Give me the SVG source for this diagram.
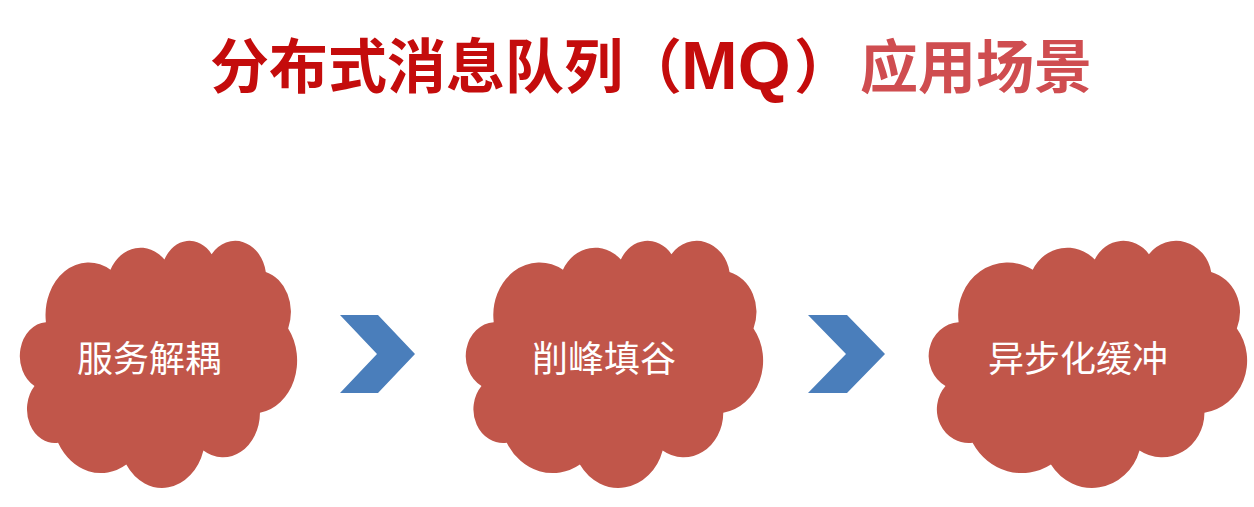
<svg xmlns="http://www.w3.org/2000/svg" xmlns:xlink="http://www.w3.org/1999/xlink" width="1254" height="507" viewBox="0 0 1254 507">
  <style>
    .cloud { fill: #C1564A; }
    .chev { fill: #4A7EBB; }
    .label { font-family: "Noto Sans CJK SC", "Noto Sans", sans-serif; font-size: 36px; fill: #FFFFFF; text-anchor: middle; }
    .title { font-family: "Noto Sans CJK SC", "Liberation Sans", sans-serif; font-weight: bold; }
    .t1 { fill: #C40C0C; }
    .t2 { fill: #CF4D50; }
  </style>
  <defs>
    <path id="cloud" d="M 3900 14370 A 6753 9190 0 0 1 14004 5201 A 5333 7267 0 0 1 22455 3431 A 4365 5945 0 0 1 29832 2479 A 4857 6595 0 0 1 38317 5575 A 5333 7273 0 0 1 41817 15458 A 6775 9220 0 0 1 37403 30201 A 5785 7867 0 0 1 28554 36812 A 6752 9215 0 0 1 16479 39263 A 7720 10543 0 0 1 5803 35469 A 4360 5918 0 0 1 2112 25547 A 4345 5945 0 0 1 3900 14370 Z"/>
  </defs>
  <rect x="0" y="0" width="1254" height="507" fill="#FFFFFF"/>

  <g id="title" class="title">
    <text x="210" y="88" font-size="59" class="t1">分布式消息队列（</text>
    <text x="681" y="89" font-size="68" class="t1" style="font-family: 'Liberation Sans', Arial, sans-serif;">MQ</text>
    <text x="794" y="88" font-size="59" class="t1">）</text>
    <text x="860" y="88" font-size="58" class="t2">应用场景</text>
  </g>

  <g id="node-decouple">
    <use xlink:href="#cloud" href="#cloud" class="cloud" transform="translate(21 240) scale(0.0063889 0.0057176)"/>
    <text x="149" y="372" class="label">服务解耦</text>
  </g>

  <g id="node-peak">
    <use xlink:href="#cloud" href="#cloud" class="cloud" transform="translate(467 240) scale(0.0068519 0.0057176)"/>
    <text x="604" y="372" class="label">削峰填谷</text>
  </g>

  <g id="node-async">
    <use xlink:href="#cloud" href="#cloud" class="cloud" transform="translate(930 240) scale(0.0073380 0.0057176)"/>
    <text x="1078" y="372" class="label">异步化缓冲</text>
  </g>

  <g id="connectors">
    <polygon class="chev" points="340,315 378,315 415,354 378,393 340,393 377,354"/>
    <polygon class="chev" points="808,315 847,315 885,354 847,393 808,393 846,354"/>
  </g>
</svg>
